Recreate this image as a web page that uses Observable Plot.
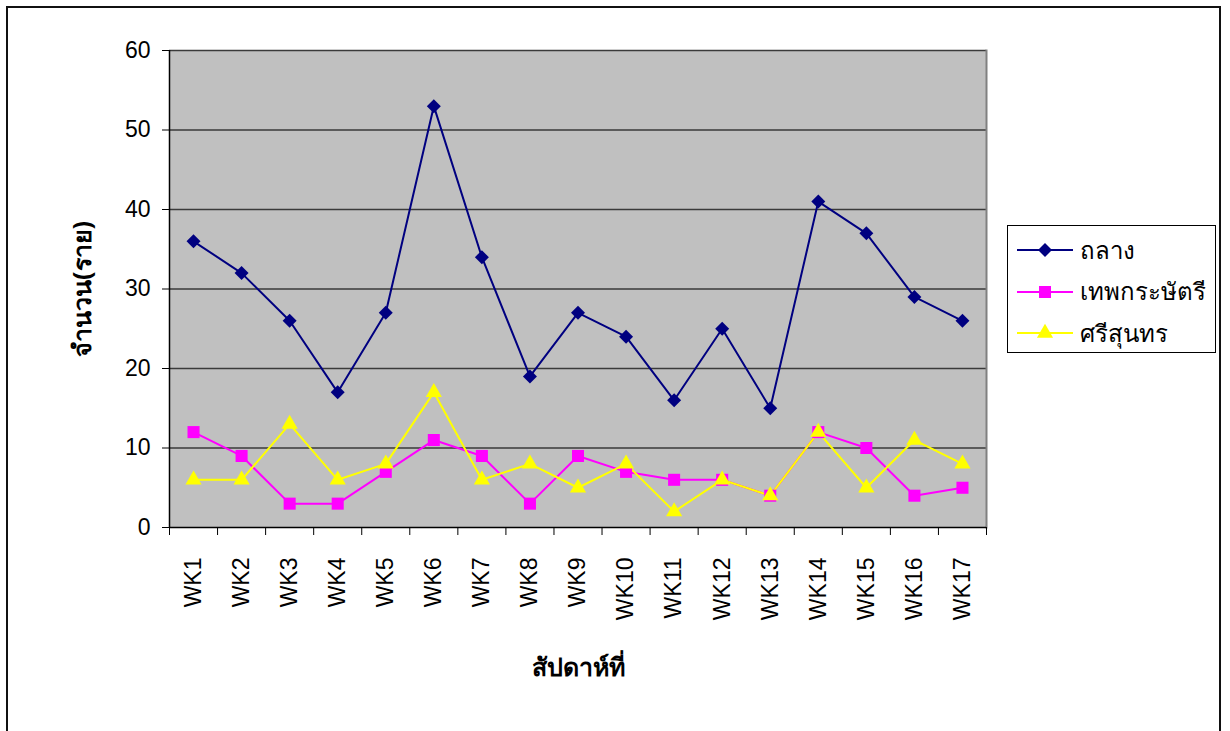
<!DOCTYPE html>
<html>
<head>
<meta charset="utf-8">
<script src="https://cdn.jsdelivr.net/npm/d3@7"></script>
<script src="https://cdn.jsdelivr.net/npm/@observablehq/plot@0.6"></script>
<style>
  html, body { margin: 0; padding: 0; background: #fff; overflow: hidden; }
  #wrap { position: relative; width: 1230px; height: 731px; }
  #border { position: absolute; left: 6px; top: 6px; width: 1215px; height: 760px; border: 2px solid #111; box-sizing: border-box; }
  #chart { position: absolute; left: 0; top: 0; }
  #legend { position: absolute; left: 1007px; top: 225px; width: 209px; height: 128px; border: 1px solid #000; box-sizing: border-box; background: #fff; font-family: "Noto Sans", "DejaVu Sans", sans-serif; font-size: 24px; }
  .row { position: absolute; left: 9px; height: 32px; display: flex; align-items: center; }
  .row span { margin-left: 7px; }
  g[aria-label="y-axis label"] text, g[aria-label="x-axis label"] text { font-weight: bold; font-size: 25px; font-family: "Noto Sans", "DejaVu Sans", sans-serif; }
</style>
</head>
<body>
<div id="wrap">
  <div id="border"></div>
  <div id="chart"></div>
  <div id="legend"></div>
</div>
<script>
const weeks = ["WK1","WK2","WK3","WK4","WK5","WK6","WK7","WK8","WK9","WK10","WK11","WK12","WK13","WK14","WK15","WK16","WK17"];
const seriesNames = ["ถลาง", "เทพกระษัตรี", "ศรีสุนทร"];
const thalang = [36,32,26,17,27,53,34,19,27,24,16,25,15,41,37,29,26];
const thepkrasattri = [12,9,3,3,7,11,9,3,9,7,6,6,4,12,10,4,5];
const srisunthon = [6,6,13,6,8,17,6,8,5,8,2,6,4,12,5,11,8];
const colors = ["#000080", "#FF00FF", "#FFFF00"];
const symbols = ["diamond2", "square", "triangle"];
const radii = [6.3, 6.8, 6.0];
const yTicks = [0,10,20,30,40,50,60];
const yLabel = "จำนวน(ราย)";
const xLabel = "สัปดาห์ที่";

const seriesValues = [thalang, thepkrasattri, srisunthon];
const data = [];
seriesValues.forEach((vals, s) => vals.forEach((v, i) => data.push({series: seriesNames[s], s, week: weeks[i], i, value: v})));

const xPos = d => d.i + 0.5;
const centers = weeks.map((w, i) => i + 0.5);
const bounds = d3.range(weeks.length + 1);

const chart = Plot.plot({
  width: 1230,
  height: 731,
  marginLeft: 169,
  marginRight: 244,
  marginTop: 50,
  marginBottom: 204,
  style: {fontFamily: "Arial, 'Liberation Sans', sans-serif", background: "transparent", overflow: "visible"},
  x: {domain: [0, weeks.length], axis: null},
  y: {domain: [0, 60], axis: null},
  marks: [
    Plot.frame({fill: "#C0C0C0", stroke: null}),
    Plot.ruleY(yTicks.filter(d => d > 0), {stroke: "#3a3a3a", strokeWidth: 1.5}),
    Plot.frame({anchor: "right", stroke: "#808080", strokeWidth: 2}),
    Plot.axisY({ticks: yTicks, tickSize: 7, tickPadding: 12, fontSize: 23, stroke: "#000",
      label: yLabel, labelAnchor: "center", labelOffset: 96, labelArrow: "none"}),
    Plot.axisX({ticks: bounds, tickSize: 8, tickFormat: () => "", label: null, stroke: "#000"}),
    Plot.axisX({ticks: centers, tickSize: 0, tickPadding: 30, tickRotate: -90, fontSize: 23,
      tickFormat: d => weeks[Math.floor(d)], label: xLabel, labelAnchor: "center", labelOffset: 148, labelArrow: "none"}),
    Plot.ruleX([0], {stroke: "#000", strokeWidth: 1.5}),
    Plot.ruleY([0], {stroke: "#000", strokeWidth: 1.5}),
    Plot.line(data, {x: xPos, y: "value", z: "series", stroke: d => colors[d.s], strokeWidth: 2}),
    ...seriesNames.map((name, s) => Plot.dot(data.filter(d => d.s === s), {
      x: xPos, y: "value", symbol: () => symbols[s], r: radii[s], fill: colors[s], stroke: null
    }))
  ]
});
document.getElementById("chart").appendChild(chart);

// legend
const legend = document.getElementById("legend");
const symPaths = symbols.map((sym, s) => {
  const map = {diamond2: d3.symbolDiamond2, square: d3.symbolSquare, triangle: d3.symbolTriangle};
  return d3.symbol(map[sym], Math.PI * radii[s] * radii[s])();
});
seriesNames.forEach((name, s) => {
  const row = document.createElement("div");
  row.className = "row";
  row.style.top = (8 + s * 41.5) + "px";
  row.innerHTML = `<svg width="56" height="20"><line x1="0" x2="56" y1="10" y2="10" stroke="${colors[s]}" stroke-width="2"/><path d="${symPaths[s]}" transform="translate(28,10)" fill="${colors[s]}"/></svg><span>${name}</span>`;
  legend.appendChild(row);
});
</script>
</body>
</html>
